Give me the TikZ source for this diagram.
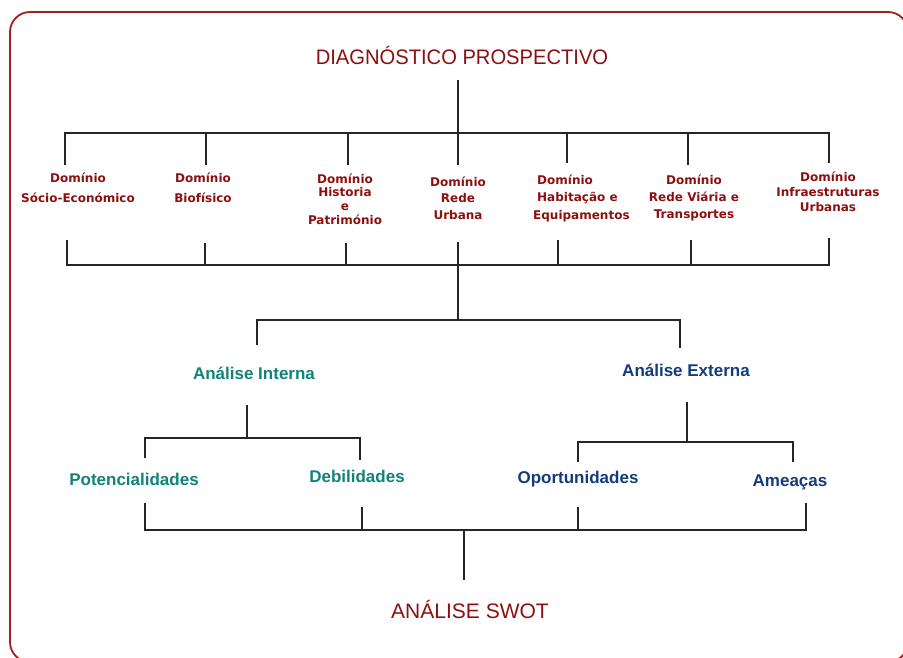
\documentclass[tikz,border=0pt]{standalone}
\usepackage{fontspec}
\setmainfont{Liberation Sans}
\newfontfamily\domfont{DejaVu Sans}
\definecolor{swotred}{RGB}{140,16,16}
\definecolor{intteal}{RGB}{18,130,122}
\definecolor{extblue}{RGB}{20,60,122}
\definecolor{framered}{RGB}{160,32,32}
\tikzset{
  head/.style={text=swotred, font=\fontsize{21}{24}\selectfont, inner sep=0pt},
  dom/.style={text=swotred, font=\domfont\bfseries\fontsize{12}{20}\selectfont, align=center, inner sep=0pt},
  ana/.style={font=\bfseries\fontsize{17}{19}\selectfont, inner sep=0pt},
  wire/.style={line width=1.6pt, black!85}
}
\begin{document}
\begin{tikzpicture}[x=1pt,y=-1pt]
    \useasboundingbox (0,0) rectangle (903,657);
    \clip (0,0) rectangle (903,657);
    \draw[framered, line width=1.8pt, rounded corners=20pt] (10,12) rectangle (908,662);

    \node[head] (diag) at (462,55) {\scalebox{0.96}[1]{DIAGNÓSTICO PROSPECTIVO}};

    \node[dom] (d1) at (78,188) {Domínio\\Sócio-Económico};
    \node[dom] (d2) at (203,188) {Domínio\\Biofísico};
    \node[dom, font=\domfont\bfseries\fontsize{12}{13.7}\selectfont] (d3) at (345,199) {Domínio\\Historia\\e\\Património};
    \node[dom, font=\domfont\bfseries\fontsize{12}{16.5}\selectfont] (d4) at (458,198) {Domínio\\Rede\\Urbana};
    \node[dom, font=\domfont\bfseries\fontsize{12}{17.5}\selectfont, align=left, anchor=west] (d5) at (533,198) {\hspace{4pt}Domínio\\\hspace{4pt}Habitação e\\Equipamentos};
    \node[dom, font=\domfont\bfseries\fontsize{12}{17}\selectfont] (d6) at (694,198) {Domínio\\Rede Viária e\\Transportes};
    \node[dom, font=\domfont\bfseries\fontsize{12}{15}\selectfont] (d7) at (828,192) {Domínio\\Infraestruturas\\Urbanas};

    \node[ana, text=intteal] (ai) at (254,373) {Análise Interna};
    \node[ana, text=extblue] (ae) at (686,370) {Análise Externa};

    \node[ana, text=intteal] (pot) at (134,479) {Potencialidades};
    \node[ana, text=intteal] (deb) at (357,476) {Debilidades};
    \node[ana, text=extblue] (opo) at (578,479) {Oportunidades};
    \node[ana, text=extblue] (ame) at (790,482) {Ameaças};

    \node[head] (swot) at (470,609) {ANÁLISE SWOT};

    % stub ends
    \coordinate (diag-dn) at (458,80);
    \foreach \n/\xu/\xl/\yu/\yl in {d1/65/67/165/240, d2/206/205/165/243, d3/348/346/165/243,
        d4/458/458/165/242, d5/567/558/163/240, d6/688/691/165/240, d7/829/829/163/238} {
        \coordinate (\n-up) at (\xu,\yu);
        \coordinate (\n-dn) at (\xl,\yl);
    }
    \coordinate (ai-up) at (257,345);  \coordinate (ae-up) at (680,348);
    \coordinate (ai-dn) at (247,405);  \coordinate (ae-dn) at (687,402);
    \coordinate (pot-up) at (145,458); \coordinate (deb-up) at (360,460);
    \coordinate (opo-up) at (578,462); \coordinate (ame-up) at (793,462);
    \coordinate (pot-dn) at (145,503); \coordinate (deb-dn) at (362,507);
    \coordinate (opo-dn) at (578,507); \coordinate (ame-dn) at (806,503);
    \coordinate (swot-up) at (464,580);
    \coordinate (bus1) at (0,133); \coordinate (bus2) at (0,265);
    \coordinate (bus3) at (0,320); \coordinate (bus4) at (0,438);
    \coordinate (bus5) at (0,442); \coordinate (bus6) at (0,530);

    % diagnostico -> dominios
    \draw[wire] (diag-dn) -- (d4-up);
    \draw[wire] (d1-up) -- (d1-up |- bus1) -- (d7-up |- bus1) -- (d7-up);
    \foreach \n in {d2,d3,d5,d6}
        \draw[wire] (\n-up |- bus1) -- (\n-up);

    % dominios -> analise
    \draw[wire] (d1-dn) -- (d1-dn |- bus2) -- (d7-dn |- bus2) -- (d7-dn);
    \foreach \n in {d2,d3,d5,d6}
        \draw[wire] (\n-dn) -- (\n-dn |- bus2);
    \draw[wire] (d4-dn) -- (d4-dn |- bus3);
    \draw[wire] (ai-up) -- (ai-up |- bus3) -- (ae-up |- bus3) -- (ae-up);

    % interna / externa
    \draw[wire] (ai-dn) -- (ai-dn |- bus4);
    \draw[wire] (pot-up) -- (pot-up |- bus4) -- (deb-up |- bus4) -- (deb-up);
    \draw[wire] (ae-dn) -- (ae-dn |- bus5);
    \draw[wire] (opo-up) -- (opo-up |- bus5) -- (ame-up |- bus5) -- (ame-up);

    % swot
    \draw[wire] (pot-dn) -- (pot-dn |- bus6) -- (ame-dn |- bus6) -- (ame-dn);
    \foreach \n in {deb,opo}
        \draw[wire] (\n-dn) -- (\n-dn |- bus6);
    \draw[wire] (swot-up |- bus6) -- (swot-up);
\end{tikzpicture}
\end{document}
